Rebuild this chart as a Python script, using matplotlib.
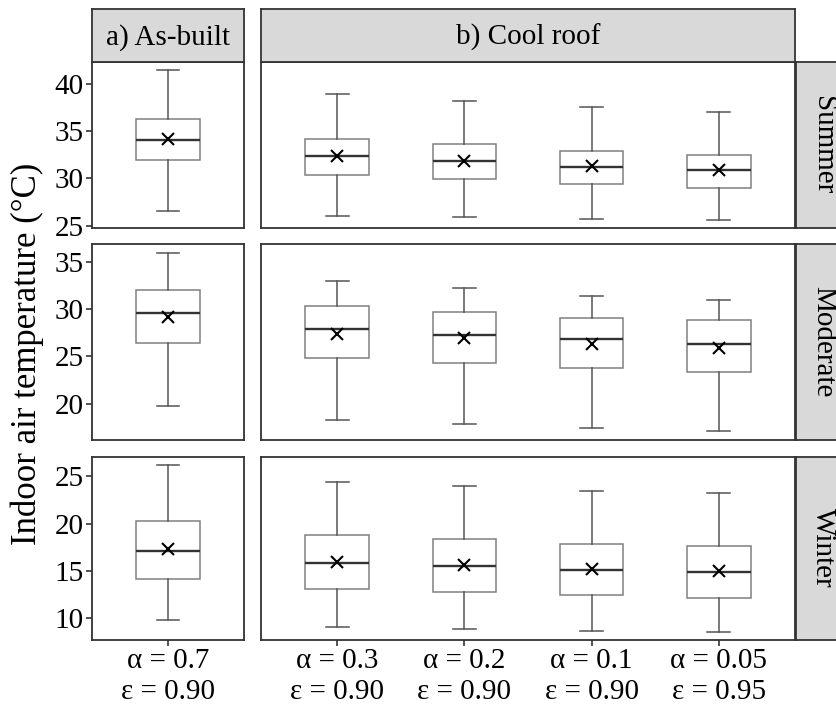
import matplotlib.pyplot as plt

plt.rcParams['font.family'] = ['Liberation Serif', 'DejaVu Serif']

# Box statistics: (whisker low, Q1, median, Q3, whisker high, mean)
seasons = ['Summer', 'Moderate', 'Winter']
asbuilt_labels = ['α = 0.7\nε = 0.90']
coolroof_labels = ['α = 0.3\nε = 0.90', 'α = 0.2\nε = 0.90',
                   'α = 0.1\nε = 0.90', 'α = 0.05\nε = 0.95']

asbuilt_summer = [(26.6, 31.9, 34.1, 36.3, 41.5, 34.2)]
asbuilt_moderate = [(19.8, 26.4, 29.6, 32.0, 35.9, 29.2)]
asbuilt_winter = [(9.8, 14.2, 17.1, 20.3, 26.2, 17.3)]

coolroof_summer = [(26.0, 30.4, 32.4, 34.2, 38.9, 32.4),
                   (25.9, 29.9, 31.8, 33.6, 38.2, 31.8),
                   (25.7, 29.4, 31.2, 32.9, 37.5, 31.3),
                   (25.6, 29.0, 30.9, 32.5, 37.0, 30.9)]
coolroof_moderate = [(18.3, 24.8, 27.9, 30.3, 33.0, 27.4),
                     (17.9, 24.3, 27.3, 29.7, 32.2, 26.9),
                     (17.4, 23.8, 26.8, 29.1, 31.4, 26.3),
                     (17.1, 23.4, 26.3, 28.8, 30.9, 25.9)]
coolroof_winter = [(9.1, 13.1, 15.9, 18.8, 24.4, 16.0),
                   (8.9, 12.8, 15.5, 18.4, 24.0, 15.6),
                   (8.7, 12.5, 15.1, 17.9, 23.5, 15.2),
                   (8.6, 12.2, 14.9, 17.6, 23.2, 15.0)]

asbuilt = [asbuilt_summer, asbuilt_moderate, asbuilt_winter]
coolroof = [coolroof_summer, coolroof_moderate, coolroof_winter]

W, H = 837, 706
fig = plt.figure(figsize=(W / 100, H / 100), dpi=100)

def px_axes(x0, y0, x1, y1):
    # pixel box (top-left origin) -> figure axes
    return fig.add_axes([x0 / W, 1 - y1 / H, (x1 - x0) / W, (y1 - y0) / H])

# y ranges (5 % expansion like ggplot), panel heights proportional to range
ylims = []
for a, c in zip(asbuilt, coolroof):
    lo = min(s[0] for s in a + c)
    hi = max(s[4] for s in a + c)
    pad = 0.05 * (hi - lo)
    ylims.append((lo - pad, hi + pad))

top, bottom, gap = 62, 640, 16.5
ranges = [hi - lo for lo, hi in ylims]
scale = (bottom - top - 2 * gap) / sum(ranges)

cols = [(92, 244, asbuilt, asbuilt_labels), (261, 795, coolroof, coolroof_labels)]
edge = '#333333'
strip_fc = '#d9d9d9'
fs = 21


def to_stats(rows):
    return [dict(whislo=r[0], q1=r[1], med=r[2], q3=r[3], whishi=r[4], mean=r[5])
            for r in rows]


def strip_style(ax):
    ax.set_facecolor(strip_fc)
    ax.set_xticks([])
    ax.set_yticks([])
    for sp in ax.spines.values():
        sp.set_color(edge)
        sp.set_linewidth(1.3)


y = top
for i, season in enumerate(seasons):
    h = ranges[i] * scale
    for j, (x0, x1, data, labels) in enumerate(cols):
        ax = px_axes(x0, y, x1, y + h)
        n = len(labels)
        ax.bxp(to_stats(data[i]), positions=range(1, n + 1), widths=0.5,
               showmeans=True, showfliers=False, patch_artist=True,
               boxprops=dict(facecolor='white', edgecolor='#808080', linewidth=1.1),
               whiskerprops=dict(color='#555555', linewidth=1.1),
               capprops=dict(color='#555555', linewidth=1.1),
               medianprops=dict(color='#333333', linewidth=1.7),
               meanprops=dict(marker='x', markeredgecolor='black',
                              markersize=8.5, markeredgewidth=1.5),
               capwidths=0.18)
        ax.set_xlim(0.4, n + 0.6)
        ax.set_ylim(*ylims[i])
        for sp in ax.spines.values():
            sp.set_color(edge)
            sp.set_linewidth(1.3)
        ax.tick_params(axis='both', length=4, width=1.2, color=edge,
                       labelsize=fs, pad=2)
        if j == 0:
            ax.yaxis.set_major_locator(plt.MultipleLocator(5))
        else:
            ax.set_yticks([])
        if i == 2:
            ax.set_xticks(range(1, n + 1))
            ax.set_xticklabels(labels, linespacing=1.25)
        else:
            ax.set_xticks([])
        if i == 0:
            sax = px_axes(x0, 9, x1, 62)
            strip_style(sax)
            sax.text(0.5, 0.47, ['a) As-built', 'b) Cool roof'][j], fontsize=fs,
                     ha='center', va='center', transform=sax.transAxes)
    # right strip (runs past the figure edge, as in the original)
    rax = px_axes(796, y, 850, y + h)
    strip_style(rax)
    rax.text(0.5, 0.5, season, fontsize=fs, rotation=-90,
             ha='center', va='center', transform=rax.transAxes)
    y += h + gap

fig.text(27 / W, 1 - 354 / H, 'Indoor air temperature (°C)',
         rotation=90, fontsize=25, ha='center', va='center')

fig.savefig('out.png', dpi=100)
